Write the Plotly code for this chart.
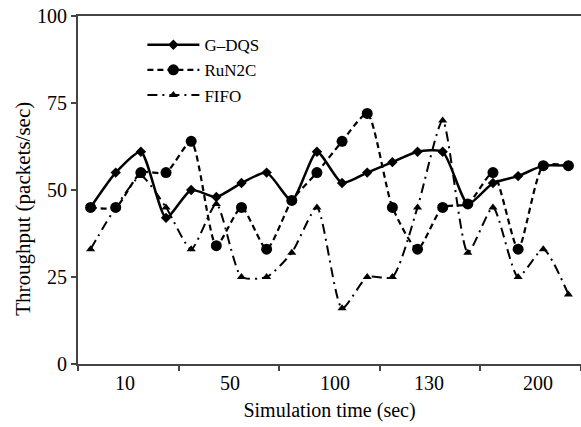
import plotly.graph_objects as go

# データ (読み取り値)
steps = list(range(1, 21))
gdqs = [45, 55, 61, 42, 50, 48, 52, 55, 47, 61, 52, 55, 58, 61, 61, 46, 52, 54, 57, 57]
run2c = [45, 45, 55, 55, 64, 34, 45, 33, 47, 55, 64, 72, 45, 33, 45, 46, 55, 33, 57, 57]
fifo = [33, 45, 54, 45, 33, 46, 25, 25, 32, 45, 16, 25, 25, 45, 70, 32, 45, 25, 33, 20]

time_labels = ["10", "50", "100", "130", "200"]
label_pos = [2.37, 6.54, 10.72, 14.46, 18.79]

font = "Liberation Serif, Times New Roman, serif"
fontsize = 20

fig = go.Figure()
fig.add_trace(go.Scatter(x=steps, y=gdqs, name="G\u2013DQS", mode="lines+markers",
                         line=dict(color="black", width=2.5, shape="spline", smoothing=0.6),
                         marker=dict(symbol="diamond", size=8, color="black")))
fig.add_trace(go.Scatter(x=steps, y=run2c, name="RuN2C", mode="lines+markers",
                         line=dict(color="black", width=2.2, dash="6px,4px", shape="spline", smoothing=0.6),
                         marker=dict(symbol="circle", size=11, color="black")))
fig.add_trace(go.Scatter(x=steps, y=fifo, name="FIFO", mode="lines+markers",
                         line=dict(color="black", width=2, dash="10px,5px,2px,5px", shape="spline", smoothing=0.6),
                         marker=dict(symbol="triangle-up", size=8, color="black")))

fig.update_layout(
    width=581, height=427,
    margin=dict(l=78, r=0, t=16, b=63),
    plot_bgcolor="white", paper_bgcolor="white",
    font=dict(family=font, size=fontsize, color="black"),
    showlegend=True,
    legend=dict(x=0.128, y=0.968, xanchor="left", yanchor="top", bgcolor="rgba(0,0,0,0)",
                font=dict(size=17), itemwidth=52, tracegroupgap=0),
    xaxis=dict(range=[0.5, 20.5], showgrid=False, zeroline=False, automargin=False,
               showline=True, linecolor="#444", linewidth=2, mirror=True,
               tickmode="array", tickvals=label_pos, ticktext=time_labels, ticks="",
               minor=dict(tickmode="linear", tick0=0.5, dtick=4, ticks="outside",
                          ticklen=5, tickwidth=2, tickcolor="#444", showgrid=False),
               title=dict(text="Simulation time (sec)", font=dict(size=fontsize), standoff=10)),
    yaxis=dict(range=[0, 100], showgrid=False, zeroline=False, automargin=False,
               showline=True, linecolor="#444", linewidth=2,
               tickvals=[0, 25, 50, 75, 100], ticks="outside", ticklen=5, tickwidth=2,
               tickcolor="#444"),
    annotations=[dict(text="Throughput (packets/sec)", textangle=-90, xref="paper", yref="paper",
                      x=-0.11, y=0.445, xanchor="center", yanchor="middle", showarrow=False,
                      font=dict(size=21))],
)

# ページ余白を消す
fig.write_html("out.html", config={"displayModeBar": False},
               post_script="document.body.style.margin='0';")
